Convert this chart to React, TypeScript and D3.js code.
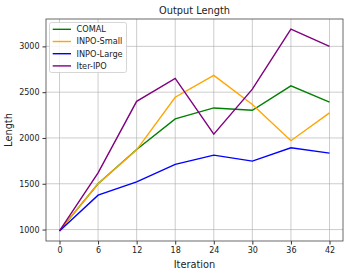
import React, { useEffect, useRef } from "react";
import * as d3 from "d3";

const iterations = [0, 6, 12, 18, 24, 30, 36, 42];
const comal = [985, 1500, 1875, 2208, 2328, 2303, 2569, 2391];
const inpoSmall = [985, 1500, 1870, 2445, 2683, 2365, 1970, 2274];
const inpoLarge = [985, 1375, 1520, 1711, 1813, 1747, 1893, 1835];
const iterIpo = [985, 1619, 2400, 2650, 2042, 2533, 3189, 3000];
const yTicks = [1000, 1500, 2000, 2500, 3000];

const series = [
  { name: "COMAL", values: comal, color: "#008000" },
  { name: "INPO-Small", values: inpoSmall, color: "#FFA500" },
  { name: "INPO-Large", values: inpoLarge, color: "#0000FF" },
  { name: "Iter-IPO", values: iterIpo, color: "#800080" },
];

const App = () => {
  const ref = useRef<SVGSVGElement>(null);

  useEffect(() => {
    const svg = d3.select(ref.current);
    svg.selectAll("*").remove();
    const font = "DejaVu Sans, sans-serif";

    const left = 46;
    const right = 343;
    const top = 19;
    const bottom = 241;

    const x = d3.scaleLinear().domain([-2.1, 44.1]).range([left, right]);
    const y = d3.scaleLinear().domain([875, 3299]).range([bottom, top]);

    // grid
    const grid = svg.append("g");
    grid
      .selectAll("line.vx")
      .data(iterations)
      .join("line")
      .attr("x1", (d) => x(d))
      .attr("x2", (d) => x(d))
      .attr("y1", top)
      .attr("y2", bottom)
      .attr("stroke", "#b0b0b0")
      .attr("stroke-opacity", 0.7)
      .attr("stroke-width", 0.9);
    grid
      .selectAll("line.hy")
      .data(yTicks)
      .join("line")
      .attr("x1", left)
      .attr("x2", right)
      .attr("y1", (d) => y(d))
      .attr("y2", (d) => y(d))
      .attr("stroke", "#b0b0b0")
      .attr("stroke-opacity", 0.7)
      .attr("stroke-width", 0.9);

    // axes
    const xAxis = svg
      .append("g")
      .attr("transform", `translate(0,${bottom})`)
      .call(d3.axisBottom(x).tickValues(iterations).tickSize(3.5).tickPadding(3));
    const yAxis = svg
      .append("g")
      .attr("transform", `translate(${left},0)`)
      .call(
        d3
          .axisLeft(y)
          .tickValues(yTicks)
          .tickFormat(d3.format("d"))
          .tickSize(3.5)
          .tickPadding(3)
      );
    [xAxis, yAxis].forEach((g) => {
      g.select(".domain").remove();
      g.selectAll("line").attr("stroke", "#333");
      g.selectAll("text")
        .attr("font-family", font)
        .attr("font-size", 8)
        .attr("fill", "#222");
    });

    // lines
    const line = d3
      .line<number>()
      .x((_, i) => x(iterations[i]))
      .y((d) => y(d));
    series.forEach((s) => {
      svg
        .append("path")
        .datum(s.values)
        .attr("d", line)
        .attr("fill", "none")
        .attr("stroke", s.color)
        .attr("stroke-width", 1.4);
    });

    // frame
    svg
      .append("rect")
      .attr("x", left)
      .attr("y", top)
      .attr("width", right - left)
      .attr("height", bottom - top)
      .attr("fill", "none")
      .attr("stroke", "#444")
      .attr("stroke-width", 0.8);

    // legend
    const lg = svg.append("g");
    lg.append("rect")
      .attr("x", 49.5)
      .attr("y", 22.5)
      .attr("width", 77)
      .attr("height", 50)
      .attr("rx", 2)
      .attr("fill", "white")
      .attr("fill-opacity", 0.85)
      .attr("stroke", "#ccc")
      .attr("stroke-width", 0.8);
    series.forEach((s, i) => {
      const ly = 29.3 + i * 12.2;
      lg.append("line")
        .attr("x1", 52.7)
        .attr("x2", 71)
        .attr("y1", ly)
        .attr("y2", ly)
        .attr("stroke", s.color)
        .attr("stroke-width", 1.4);
      lg.append("text")
        .attr("x", 76.5)
        .attr("y", ly)
        .attr("dy", "0.35em")
        .attr("font-family", font)
        .attr("font-size", 8.2)
        .attr("fill", "#222")
        .text(s.name);
    });

    // labels
    svg
      .append("text")
      .attr("x", (left + right) / 2)
      .attr("y", 14)
      .attr("text-anchor", "middle")
      .attr("font-family", font)
      .attr("font-size", 9.8)
      .attr("fill", "#222")
      .text("Output Length");
    svg
      .append("text")
      .attr("x", (left + right) / 2)
      .attr("y", 268)
      .attr("text-anchor", "middle")
      .attr("font-family", font)
      .attr("font-size", 9.8)
      .attr("fill", "#222")
      .text("Iteration");
    svg
      .append("text")
      .attr("transform", `translate(12,${(top + bottom) / 2}) rotate(-90)`)
      .attr("text-anchor", "middle")
      .attr("font-family", font)
      .attr("font-size", 9.8)
      .attr("fill", "#222")
      .text("Length");
  }, []);

  return (
    <svg
      ref={ref}
      width={350}
      height={274}
      style={{ position: "absolute", left: 0, top: 0, background: "white" }}
    />
  );
};

export default App;
